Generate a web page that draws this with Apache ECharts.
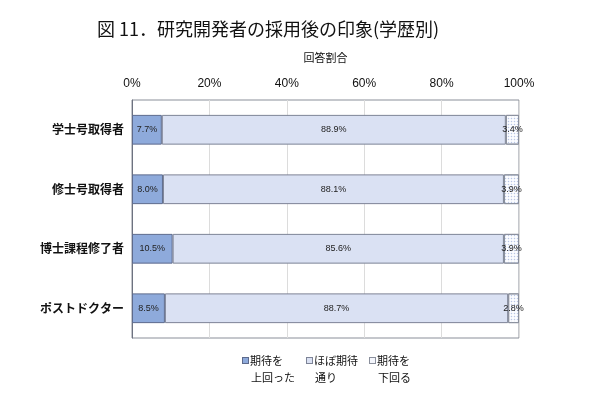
<!DOCTYPE html>
<html>
<head>
<meta charset="utf-8">
<script src="https://cdn.jsdelivr.net/npm/echarts@6/dist/echarts.min.js"></script>
<style>
  html, body { margin: 0; padding: 0; background: #fff; }
  #main { width: 600px; height: 400px; }
</style>
</head>
<body>
<div id="main"></div>
<script>
// カテゴリ（上から順）
var categories = ['学士号取得者', '修士号取得者', '博士課程修了者', 'ポストドクター'];
// 各系列の値 (%)
var aboveValues = [7.7, 8.0, 10.5, 8.5];
var asExpectedValues = [88.9, 88.1, 85.6, 88.7];
var belowValues = [3.4, 3.9, 3.9, 2.8];
var seriesNames = ['期待を上回った', 'ほぼ期待通り', '期待を下回る'];
var legendLines = [['期待を', '上回った'], ['ほぼ期待', '通り'], ['期待を', '下回る']];
var xTicks = [0, 20, 40, 60, 80, 100];

var fills = ['#8eaadb', '#dae1f3', '#f4f6fc'];
var borders = ['#5d6a8c', '#7d8396', '#8a8f9c'];

var font = '"Noto Sans CJK JP", sans-serif';
var myChart = echarts.init(document.getElementById('main'));

var labelStyle = {
    show: true,
    position: 'inside',
    fontSize: 9,
    color: '#222',
    fontFamily: 'Liberation Sans, Arial, sans-serif',
    formatter: function (p) { return p.value.toFixed(1) + '%'; }
};

// 凡例の四角は1行目の高さに置く（rich text で描く）
var legendRich = { g: { width: 2 }, sp: { width: 8 } };
for (var i = 0; i < 3; i++) {
    legendRich['b' + i] = {
        width: 5, height: 5,
        backgroundColor: fills[i],
        borderColor: borders[i],
        borderWidth: 1
    };
}

var option = {
    animation: false,
    backgroundColor: '#fff',
    title: {
        text: '図 11．研究開発者の採用後の印象(学歴別)',
        left: 92,
        top: 15,
        textStyle: {
            fontSize: 18,
            fontWeight: 'normal',
            color: '#111',
            fontFamily: font
        }
    },
    grid: {
        left: 132,
        right: 81,
        top: 100,
        bottom: 62,
        show: true,
        borderColor: '#8a8f99',
        borderWidth: 1
    },
    legend: {
        top: 347,
        left: 232,
        itemWidth: 0,
        itemHeight: 0,
        itemGap: 6,
        textStyle: {
            fontSize: 11,
            color: '#111',
            fontFamily: font,
            lineHeight: 17,
            rich: legendRich
        },
        formatter: function (name) {
            var k = seriesNames.indexOf(name);
            return '{b' + k + '|}{g|}' + legendLines[k][0] + '\n{sp|}' + legendLines[k][1];
        },
        data: seriesNames
    },
    xAxis: {
        type: 'value',
        position: 'top',
        min: 0,
        max: 100,
        interval: 20,
        name: '回答割合',
        nameLocation: 'middle',
        nameGap: 37,
        nameTextStyle: { fontSize: 11, color: '#111', fontFamily: font },
        axisLine: { show: false },
        axisTick: { show: false },
        axisLabel: {
            fontSize: 12,
            color: '#111',
            margin: 10,
            fontFamily: 'Liberation Sans, Arial, sans-serif',
            formatter: function (v) { return xTicks.indexOf(v) >= 0 ? v + '%' : ''; }
        },
        splitLine: { show: true, lineStyle: { color: '#dcdcdc', width: 1 } }
    },
    yAxis: {
        type: 'category',
        inverse: true,
        data: categories,
        axisLine: { show: true, lineStyle: { color: '#6d7280', width: 1 } },
        axisTick: { show: false },
        axisLabel: {
            fontSize: 12,
            fontWeight: 'bold',
            color: '#111',
            margin: 8,
            fontFamily: font
        }
    },
    series: [{
        name: seriesNames[0],
        type: 'bar',
        stack: 'total',
        barWidth: '50%',
        data: aboveValues,
        label: labelStyle,
        itemStyle: { color: fills[0], borderColor: borders[0], borderWidth: 1 }
    }, {
        name: seriesNames[1],
        type: 'bar',
        stack: 'total',
        data: asExpectedValues,
        label: labelStyle,
        itemStyle: { color: fills[1], borderColor: borders[1], borderWidth: 1 }
    }, {
        name: seriesNames[2],
        type: 'bar',
        stack: 'total',
        data: belowValues,
        label: labelStyle,
        itemStyle: {
            color: '#fbfcff',
            borderColor: borders[2],
            borderWidth: 1,
            decal: {
                symbol: 'circle',
                symbolSize: 0.5,
                color: '#b9c6e4',
                dashArrayX: [3, 0],
                dashArrayY: [3, 0],
                rotation: 0
            }
        }
    }]
};

myChart.setOption(option);
</script>
</body>
</html>
